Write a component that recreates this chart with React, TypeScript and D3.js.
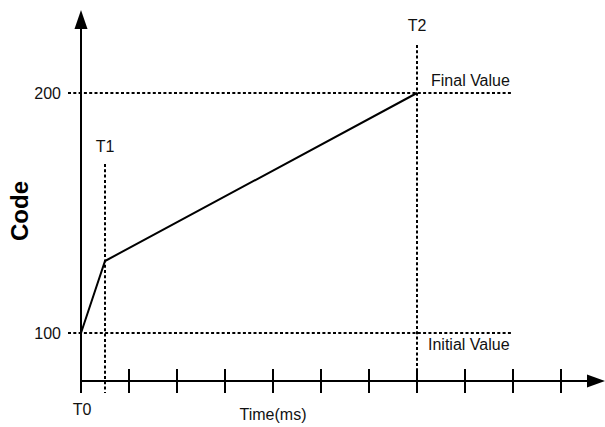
import React, { useRef, useEffect } from "react";
import { select, scaleLinear, line, range } from "d3";

interface StepPoint {
  t: number; // time in tick units
  code: number;
}

// ramp profile: T0 -> T1 -> T2
const rampPoints: StepPoint[] = [
  { t: 0, code: 100 },
  { t: 0.5, code: 130 },
  { t: 7, code: 200 },
];

const markerTimes = [
  { label: "T1", t: 0.5 },
  { label: "T2", t: 7 },
];

const levelLines = [
  { value: 200, label: "Final Value" },
  { value: 100, label: "Initial Value" },
];

const yTickValues = [100, 200];
const xTickValues = range(1, 11);

const WIDTH = 605;
const HEIGHT = 427;
const FONT = "'Liberation Sans', Arial, sans-serif";
const FS = 16;

const App: React.FC = () => {
  const svgRef = useRef<SVGSVGElement>(null);

  useEffect(() => {
    const svg = select(svgRef.current);
    svg.selectAll("*").remove();

    // escalas
    const x = scaleLinear().domain([0, 11]).range([81, 609]);
    const y = scaleLinear().domain([100, 200]).range([333, 93]);

    const xAxisY = 381;
    const xEnd = 605;
    const yTop = 10;
    const x0 = x(0);

    const g = svg.append("g");

    // horizontal dashed levels
    levelLines.forEach((lv) => {
      g.append("line")
        .attr("x1", 68)
        .attr("x2", x(9))
        .attr("y1", y(lv.value))
        .attr("y2", y(lv.value))
        .attr("stroke", "#000")
        .attr("stroke-width", 2)
        .attr("stroke-dasharray", "3,2.3");
    });

    // vertical markers
    markerTimes.forEach((m, i) => {
      const top = i === 0 ? 164 : 45;
      g.append("line")
        .attr("x1", x(m.t))
        .attr("x2", x(m.t))
        .attr("y1", top)
        .attr("y2", 393)
        .attr("stroke", "#000")
        .attr("stroke-width", 2)
        .attr("stroke-dasharray", "3,2.3");
      g.append("text")
        .attr("x", x(m.t))
        .attr("y", i === 0 ? 152 : 31)
        .attr("text-anchor", "middle")
        .attr("font-size", FS)
        .attr("font-family", FONT)
        .attr("fill", "#111")
        .text(m.label);
    });

    // level labels
    g.append("text")
      .attr("x", 431)
      .attr("y", y(200) - 7)
      .attr("font-size", FS)
      .attr("font-family", FONT)
      .attr("fill", "#111")
      .text(levelLines[0].label);
    g.append("text")
      .attr("x", 428)
      .attr("y", y(100) + 17)
      .attr("font-size", FS)
      .attr("font-family", FONT)
      .attr("fill", "#111")
      .text(levelLines[1].label);

    // y tick labels
    yTickValues.forEach((v) => {
      g.append("text")
        .attr("x", 61)
        .attr("y", y(v) + 5.5)
        .attr("text-anchor", "end")
        .attr("font-size", FS)
        .attr("font-family", FONT)
        .attr("fill", "#111")
        .text(v);
    });

    // ejes
    g.append("line")
      .attr("x1", x0)
      .attr("x2", x0)
      .attr("y1", 393)
      .attr("y2", yTop + 14)
      .attr("stroke", "#000")
      .attr("stroke-width", 2);
    g.append("path")
      .attr("d", `M${x0},${yTop} L${x0 - 6.5},${yTop + 19} L${x0 + 6.5},${yTop + 19} Z`)
      .attr("fill", "#000");

    g.append("line")
      .attr("x1", x0)
      .attr("x2", xEnd - 12)
      .attr("y1", xAxisY)
      .attr("y2", xAxisY)
      .attr("stroke", "#000")
      .attr("stroke-width", 2);
    g.append("path")
      .attr(
        "d",
        `M${xEnd},${xAxisY} L${xEnd - 18},${xAxisY - 6.5} L${xEnd - 18},${xAxisY + 6.5} Z`
      )
      .attr("fill", "#000");

    xTickValues.forEach((t) => {
      g.append("line")
        .attr("x1", x(t))
        .attr("x2", x(t))
        .attr("y1", xAxisY - 12)
        .attr("y2", xAxisY + 12)
        .attr("stroke", "#000")
        .attr("stroke-width", 2);
    });

    // ramp line
    const lineGen = line<StepPoint>()
      .x((d) => x(d.t))
      .y((d) => y(d.code));
    g.append("path")
      .datum(rampPoints)
      .attr("fill", "none")
      .attr("stroke", "#000")
      .attr("stroke-width", 2)
      .attr("d", lineGen);

    // axis labels
    g.append("text")
      .attr("x", x(0) + 1)
      .attr("y", 415)
      .attr("text-anchor", "middle")
      .attr("font-size", FS)
      .attr("font-family", FONT)
      .attr("fill", "#111")
      .text("T0");
    g.append("text")
      .attr("x", 273)
      .attr("y", 420)
      .attr("text-anchor", "middle")
      .attr("font-size", FS)
      .attr("font-family", FONT)
      .attr("fill", "#111")
      .text("Time(ms)");
    g.append("text")
      .attr("transform", "translate(28,211) rotate(-90)")
      .attr("text-anchor", "middle")
      .attr("font-size", 24)
      .attr("font-weight", "bold")
      .attr("font-family", FONT)
      .attr("fill", "#000")
      .text("Code");
  }, []);

  return (
    <div style={{ position: "absolute", left: 0, top: 0 }}>
      <svg ref={svgRef} width={WIDTH} height={HEIGHT} style={{ display: "block", background: "#fff" }} />
    </div>
  );
};

export default App;
